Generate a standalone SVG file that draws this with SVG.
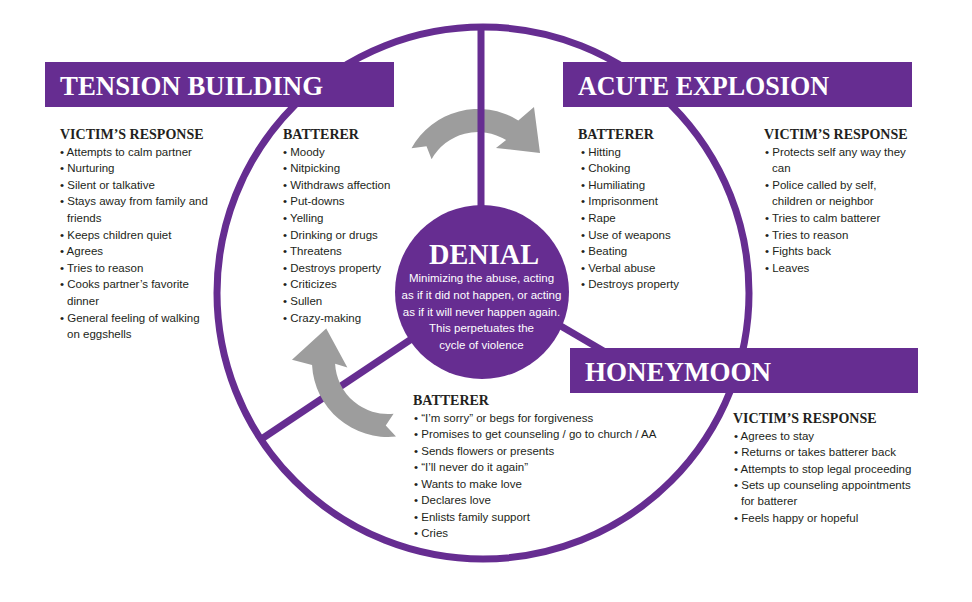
<svg xmlns="http://www.w3.org/2000/svg" xmlns:xlink="http://www.w3.org/1999/xlink" width="972" height="602" viewBox="0 0 972 602">
<style>
.ring{fill:none;stroke:#662d91;stroke-width:7}
.spoke{stroke:#662d91;stroke-width:7;fill:none}
.banner{fill:#662d91}
.arrow{fill:#9d9d9d}
.title{font-family:"Liberation Serif","Times New Roman",serif;font-weight:bold;font-size:27px;fill:#ffffff}
.hd{font-family:"Liberation Serif","Times New Roman",serif;font-weight:bold;font-size:14px;fill:#231f20}
.tx{font-family:"Liberation Sans",Arial,sans-serif;font-size:11.5px;fill:#231f20}
.wt{font-family:"Liberation Sans",Arial,sans-serif;font-size:11.5px;fill:#ffffff;text-anchor:middle}
</style>
<defs>
<path id="cyc-arrow" d="M -66.5,-36.8 A 76 76 0 0 1 40.3,-64.5 L 56,-78 L 62,-32 L 18,-37 L 28.1,-44.9 A 53 53 0 0 0 -46.4,-25.7 L -51.5,-38.8 Z"/>
</defs>
<rect x="0" y="0" width="972" height="602" fill="#ffffff"/>

<g id="connectors">
<circle class="ring" cx="483" cy="293" r="266"/>
<line class="spoke" x1="263" y1="438" x2="440" y2="320"/>
<line class="spoke" x1="530" y1="308" x2="612" y2="356"/>
<use xlink:href="#cyc-arrow" class="arrow" transform="translate(388,361) rotate(-125)"/>
<use xlink:href="#cyc-arrow" class="arrow" transform="translate(478,185)"/>
<line class="spoke" x1="481" y1="27" x2="481" y2="240"/>
</g>

<g id="denial">
<circle cx="482" cy="292" r="87" fill="#662d91"/>
<text x="484" y="264" class="title" text-anchor="middle" textLength="110" lengthAdjust="spacingAndGlyphs" style="font-size:29px">DENIAL</text>
<text class="wt" x="481.5" y="281.5">Minimizing the abuse, acting</text>
<text class="wt" x="481.5" y="298.5">as if it did not happen, or acting</text>
<text class="wt" x="481.5" y="315.5">as if it will never happen again.</text>
<text class="wt" x="481.5" y="332">This perpetuates the</text>
<text class="wt" x="481.5" y="348.5">cycle of violence</text>
</g>

<g id="tension-building">
<rect class="banner" x="45" y="62" width="349" height="45"/>
<text class="title" x="60" y="95" textLength="263" lengthAdjust="spacingAndGlyphs">TENSION BUILDING</text>
</g>

<g id="tension-victim">
<text class="hd" x="60" y="139">VICTIM’S RESPONSE</text>
<text class="tx" x="60" y="155.5">• Attempts to calm partner</text>
<text class="tx" x="60" y="172.1">• Nurturing</text>
<text class="tx" x="60" y="188.7">• Silent or talkative</text>
<text class="tx" x="60" y="205.3">• Stays away from family and</text>
<text class="tx" x="67" y="221.9">friends</text>
<text class="tx" x="60" y="238.5">• Keeps children quiet</text>
<text class="tx" x="60" y="255.1">• Agrees</text>
<text class="tx" x="60" y="271.7">• Tries to reason</text>
<text class="tx" x="60" y="288.3">• Cooks partner’s favorite</text>
<text class="tx" x="67" y="304.9">dinner</text>
<text class="tx" x="60" y="321.5">• General feeling of walking</text>
<text class="tx" x="67" y="338.1">on eggshells</text>
</g>

<g id="tension-batterer">
<text class="hd" x="283" y="139">BATTERER</text>
<text class="tx" x="283" y="155.5">• Moody</text>
<text class="tx" x="283" y="172.1">• Nitpicking</text>
<text class="tx" x="283" y="188.7">• Withdraws affection</text>
<text class="tx" x="283" y="205.3">• Put-downs</text>
<text class="tx" x="283" y="221.9">• Yelling</text>
<text class="tx" x="283" y="238.5">• Drinking or drugs</text>
<text class="tx" x="283" y="255.1">• Threatens</text>
<text class="tx" x="283" y="271.7">• Destroys property</text>
<text class="tx" x="283" y="288.3">• Criticizes</text>
<text class="tx" x="283" y="304.9">• Sullen</text>
<text class="tx" x="283" y="321.5">• Crazy-making</text>
</g>

<g id="acute-explosion">
<rect class="banner" x="563" y="62" width="349" height="45"/>
<text class="title" x="578" y="95" textLength="251" lengthAdjust="spacingAndGlyphs">ACUTE EXPLOSION</text>
</g>

<g id="acute-batterer">
<text class="hd" x="578" y="139">BATTERER</text>
<text class="tx" x="581" y="155.5">• Hitting</text>
<text class="tx" x="581" y="172.1">• Choking</text>
<text class="tx" x="581" y="188.7">• Humiliating</text>
<text class="tx" x="581" y="205.3">• Imprisonment</text>
<text class="tx" x="581" y="221.9">• Rape</text>
<text class="tx" x="581" y="238.5">• Use of weapons</text>
<text class="tx" x="581" y="255.1">• Beating</text>
<text class="tx" x="581" y="271.7">• Verbal abuse</text>
<text class="tx" x="581" y="288.3">• Destroys property</text>
</g>

<g id="acute-victim">
<text class="hd" x="764" y="139">VICTIM’S RESPONSE</text>
<text class="tx" x="765" y="155.5">• Protects self any way they</text>
<text class="tx" x="772" y="172.1">can</text>
<text class="tx" x="765" y="188.7">• Police called by self,</text>
<text class="tx" x="772" y="205.3">children or neighbor</text>
<text class="tx" x="765" y="221.9">• Tries to calm batterer</text>
<text class="tx" x="765" y="238.5">• Tries to reason</text>
<text class="tx" x="765" y="255.1">• Fights back</text>
<text class="tx" x="765" y="271.7">• Leaves</text>
</g>

<g id="honeymoon">
<rect class="banner" x="570" y="348" width="348" height="45"/>
<text class="title" x="585" y="381" textLength="186" lengthAdjust="spacingAndGlyphs">HONEYMOON</text>
</g>

<g id="honeymoon-batterer">
<text class="hd" x="413" y="405">BATTERER</text>
<text class="tx" x="414" y="421.5">• “I’m sorry” or begs for forgiveness</text>
<text class="tx" x="414" y="437.5">• Promises to get counseling / go to church / AA</text>
<text class="tx" x="414" y="454.5">• Sends flowers or presents</text>
<text class="tx" x="414" y="470.5">• “I’ll never do it again”</text>
<text class="tx" x="414" y="487.5">• Wants to make love</text>
<text class="tx" x="414" y="503.5">• Declares love</text>
<text class="tx" x="414" y="520.5">• Enlists family support</text>
<text class="tx" x="414" y="536.5">• Cries</text>
</g>

<g id="honeymoon-victim">
<text class="hd" x="733" y="423">VICTIM’S RESPONSE</text>
<text class="tx" x="734" y="439.5">• Agrees to stay</text>
<text class="tx" x="734" y="455.5">• Returns or takes batterer back</text>
<text class="tx" x="734" y="472.5">• Attempts to stop legal proceeding</text>
<text class="tx" x="734" y="488.5">• Sets up counseling appointments</text>
<text class="tx" x="741" y="504.5">for batterer</text>
<text class="tx" x="734" y="521.5">• Feels happy or hopeful</text>
</g>
</svg>
